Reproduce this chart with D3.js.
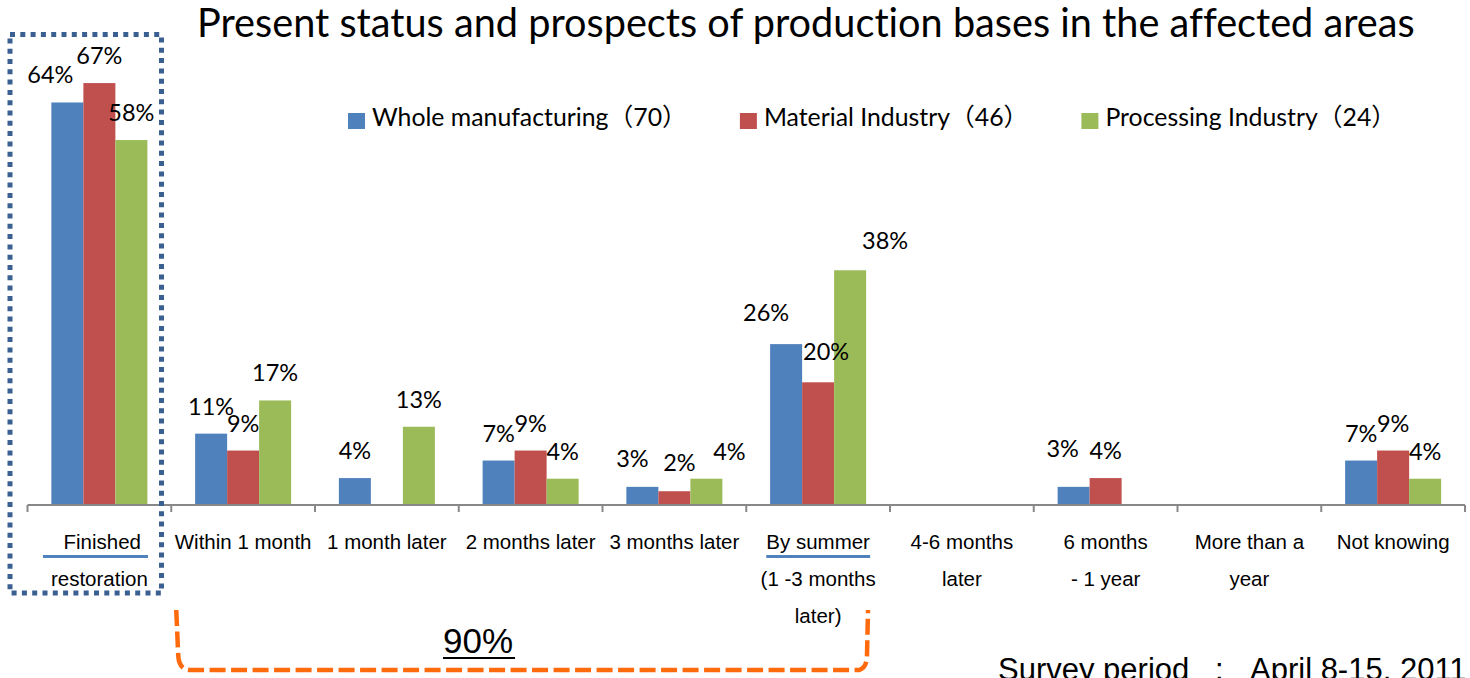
<!DOCTYPE html>
<html>
<head>
<meta charset="utf-8">
<script src="https://cdn.jsdelivr.net/npm/d3@7/dist/d3.min.js"></script>
<style>
    body { margin: 0; background: #fff; }
    svg { display: block; }
    text { font-variant-ligatures: none; }
</style>
</head>
<body>
<script>
// chart values (share of firms, %)
var categories = ["Finished restoration", "Within 1 month", "1 month later", "2 months later",
    "3 months later", "By summer", "4-6 months later", "6 months - 1 year", "More than a year", "Not knowing"];

var categoryLines = [[" Finished", "restoration"], ["Within 1 month"], ["1 month later"], ["2 months later"],
    ["3 months later"], ["By summer", "(1 -3 months", "later)"], ["4-6 months", "later"],
    ["6 months", "- 1 year"], ["More than a", "year"], ["Not knowing"]];

var seriesNames = ["Whole manufacturing（70）", "Material Industry（46）", "Processing Industry（24）"];

var wholeValues = [64.3, 11.4, 4.3, 7.1, 2.9, 25.7, 0, 2.9, 0, 7.1];
var materialValues = [67.4, 8.7, 0, 8.7, 2.2, 19.6, 0, 4.3, 0, 8.7];
var processingValues = [58.3, 16.7, 12.5, 4.2, 4.2, 37.5, 0, 0, 0, 4.2];

var seriesValues = [wholeValues, materialValues, processingValues];
var colors = ["#4f81bd", "#c0504d", "#9bbb59"];

// hand-moved data labels in the original (series-category)
var labelNudge = {
    "0-0": [-17, 0],
    "0-4": [-10, -1], "1-4": [5, -1], "2-4": [23, 0],
    "0-5": [-20, -4], "1-5": [8, -3], "2-5": [35, -2],
    "0-7": [-11, -11]
};

var width = 1470, height = 678;

var svg = d3.select("body").append("svg")
    .attr("width", width)
    .attr("height", height);

var x0 = d3.scaleBand()
    .domain(categories)
    .range([27.5, 1465])
    .padding(0);

var x1 = d3.scaleBand()
    .domain(d3.range(seriesNames.length))
    .range([0, x0.bandwidth()])
    .paddingInner(0)
    .paddingOuter(0.746);

var y = d3.scaleLinear()
    .domain([0, 70])
    .range([505, 505 - 70 * 6.26]);

function fitWidth(sel, w) {
    var fs = parseFloat(sel.attr("font-size"));
    var len = sel.node().getComputedTextLength();
    sel.attr("font-size", fs * w / len);
    return fs * w / len;
}

// title
var title = svg.append("text")
    .attr("x", 197)
    .attr("y", 37)
    .attr("font-family", "Lato, 'Noto Sans'")
    .attr("font-size", 32)
    .attr("fill", "#000")
    .text("Present status and prospects of production bases in the affected areas");
fitWidth(title, 1218);

// bars
var rows = [];
seriesValues.forEach(function (vals, s) {
    vals.forEach(function (v, i) {
        rows.push({ s: s, cat: categories[i], i: i, value: v });
    });
});

svg.append("g")
    .attr("class", "bars")
    .selectAll("rect")
    .data(rows.filter(function (d) { return d.value > 0; }))
    .enter().append("rect")
    .attr("x", function (d) { return x0(d.cat) + x1(d.s); })
    .attr("y", function (d) { return y(d.value); })
    .attr("width", x1.bandwidth())
    .attr("height", function (d) { return y(0) - y(d.value); })
    .attr("fill", function (d) { return colors[d.s]; });

// data labels
svg.append("g")
    .attr("class", "labels")
    .selectAll("text")
    .data(rows.filter(function (d) { return d.value > 0; }))
    .enter().append("text")
    .attr("x", function (d) {
        var n = labelNudge[d.s + "-" + d.i] || [0, 0];
        return x0(d.cat) + x1(d.s) + x1.bandwidth() / 2 + n[0];
    })
    .attr("y", function (d) {
        var n = labelNudge[d.s + "-" + d.i] || [0, 0];
        return y(d.value) - 19 + n[1];
    })
    .attr("text-anchor", "middle")
    .attr("font-family", "Lato, 'Noto Sans'")
    .attr("font-size", 23.5)
    .attr("fill", "#000")
    .text(function (d) { return Math.round(d.value) + "%"; });

// axis
var axis = svg.append("g").attr("class", "axis");
axis.append("line")
    .attr("x1", x0.range()[0]).attr("x2", x0.range()[1])
    .attr("y1", y(0)).attr("y2", y(0))
    .attr("stroke", "#888").attr("stroke-width", 2);

axis.selectAll(".tick")
    .data(categories.concat(["end"]))
    .enter().append("line")
    .attr("class", "tick")
    .attr("x1", function (d, i) { return x0.range()[0] + i * x0.step(); })
    .attr("x2", function (d, i) { return x0.range()[0] + i * x0.step(); })
    .attr("y1", y(0)).attr("y2", y(0) + 7)
    .attr("stroke", "#888").attr("stroke-width", 2);

var catLabel = axis.selectAll(".catlabel")
    .data(categories)
    .enter().append("text")
    .attr("class", "catlabel")
    .attr("text-anchor", "middle")
    .attr("font-family", "'Liberation Sans', Arial, sans-serif")
    .attr("font-size", 20.5)
    .attr("fill", "#000")
    .style("white-space", "pre");

catLabel.selectAll("tspan")
    .data(function (d, i) {
        return categoryLines[i].map(function (t) { return { t: t, cat: d }; });
    })
    .enter().append("tspan")
    .attr("x", function (d) { return x0(d.cat) + x0.bandwidth() / 2; })
    .attr("y", function (d, j) { return 549 + j * 37; })
    .text(function (d) { return d.t; });

// blue underlines below "Finished" and "By summer"
[[0, 19, 7], [5, 0, 0]].forEach(function (u) {
    var box = catLabel.filter(function (d, i) { return i === u[0]; })
        .select("tspan").node().getBBox();
    var x = u[0] === 0 ? box.x + box.width - 79 - u[1] : box.x;
    var x2 = u[0] === 0 ? box.x + box.width + u[2] : box.x + box.width;
    axis.append("line")
        .attr("x1", x).attr("x2", x2)
        .attr("y1", 556.5).attr("y2", 556.5)
        .attr("stroke", "#4f81bd").attr("stroke-width", 3);
});

// legend
var legend = svg.append("g").attr("class", "legend");
var legendX = 348, legendSize = null;
seriesNames.forEach(function (name, s) {
    legend.append("rect")
        .attr("x", legendX).attr("y", 113)
        .attr("width", 17).attr("height", 16)
        .attr("fill", colors[s]);
    var t = legend.append("text")
        .attr("x", legendX + 24)
        .attr("y", 126)
        .attr("font-family", "Lato, 'Noto Sans CJK JP'")
        .attr("font-size", legendSize || 24)
        .attr("fill", "#000")
        .text(name);
    if (legendSize === null) legendSize = fitWidth(t, 315);
    legendX = legendX + 24 + t.node().getComputedTextLength() + 53;
});

// dotted frame around finished restoration
svg.append("rect")
    .attr("x", 10).attr("y", 34.5)
    .attr("width", 151.5).attr("height", 558.5)
    .attr("fill", "none")
    .attr("stroke", "#3a5f91")
    .attr("stroke-width", 5)
    .attr("stroke-dasharray", "5,5.3");

// orange bracket below the restoration-within-summer groups
var bl = x0(categories[1]) + 5, br = x0(categories[5]) + x0.bandwidth() - 23;
svg.append("path")
    .attr("d", "M" + bl + ",610 L" + (bl + 2) + ",656 Q" + (bl + 3) + ",670 " + (bl + 14) + ",670 L" +
        (br - 8) + ",670 Q" + br + ",668 " + br + ",655 L" + (br + 1) + ",610")
    .attr("fill", "none")
    .attr("stroke", "#ff6a0d")
    .attr("stroke-width", 4.5)
    .attr("stroke-dasharray", "16,5.5");

var ninety = svg.append("text")
    .attr("x", 478).attr("y", 653)
    .attr("text-anchor", "middle")
    .attr("font-family", "'Liberation Sans', Arial, sans-serif")
    .attr("font-size", 35)
    .attr("fill", "#000")
    .text("90%");
var nb = ninety.node().getBBox();
svg.append("line")
    .attr("x1", nb.x).attr("x2", nb.x + nb.width + 2)
    .attr("y1", 658).attr("y2", 658)
    .attr("stroke", "#000").attr("stroke-width", 2);

// survey note (runs off the bottom edge, as in the original)
var note = svg.append("text")
    .attr("y", 680)
    .attr("font-family", "'Liberation Sans', Arial, sans-serif")
    .attr("font-size", 31)
    .attr("fill", "#000");
note.append("tspan").attr("x", 998).text("Survey period");
note.append("tspan").attr("x", 1215).text(":");
note.append("tspan").attr("x", 1250).text("April 8-15, 2011");
</script>
</body>
</html>
